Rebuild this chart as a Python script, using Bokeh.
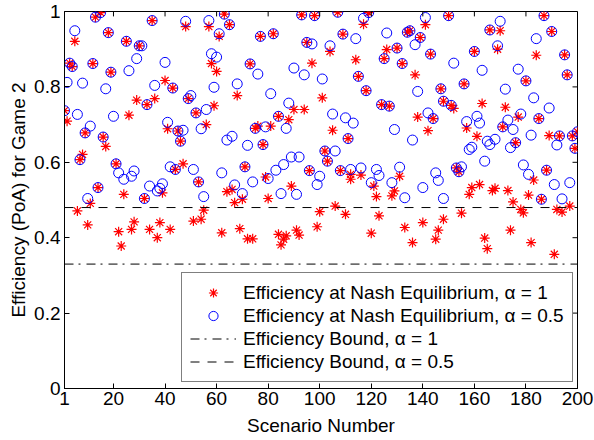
from bokeh.plotting import figure
from bokeh.models import Range1d, FixedTicker, Legend, LegendItem
from bokeh.embed import file_html
from bokeh.resources import INLINE

# ---- data ----
circ_x = [1, 2, 3, 4, 5, 6, 7, 8, 9, 10, 11, 12, 13, 14, 15, 16, 17, 18, 19, 20,
          21, 22, 24, 25, 26, 27, 28, 29, 30, 31, 32, 33, 34, 35, 36, 37, 38, 39, 40,
          41, 42, 43, 44, 45, 46, 47, 48, 49, 50, 51, 52, 53, 54, 55, 56, 57, 58, 59, 60,
          61, 62, 63, 64, 65, 66, 67, 68, 70, 71, 72, 73, 74, 75, 76, 77, 78, 79, 80,
          81, 82, 83, 84, 85, 86, 87, 88, 89, 90, 91, 92, 93, 94, 95, 96, 97, 98, 99, 100,
          101, 102, 103, 104, 105, 106, 107, 108, 109, 110, 111, 112, 113, 114, 115, 116,
          117, 118, 119, 120, 122, 123, 124, 125, 126, 127, 128, 129, 130, 131, 132, 133,
          134, 135, 136, 137, 138, 139, 140, 141, 142, 143, 144, 145, 146, 147, 148, 148,
          150, 151, 152, 153, 154, 155, 156, 157, 158, 159, 160, 161, 162, 163, 164, 165,
          166, 166, 168, 169, 170, 171, 172, 173, 174, 175, 176, 177, 178, 179, 180, 181,
          182, 183, 184, 185, 186, 187, 188, 189, 190, 191, 192, 193, 194, 195, 196, 197,
          198, 199, 200]
circ_y = [0.737, 0.812, 0.863, 0.854, 0.949, 0.727, 0.607, 0.810, 0.678, 0.504, 0.696,
          0.862, 0.985, 0.533, 0.997, 0.667, 0.795, 0.944, 0.839, 0.722,
          0.596, 0.572, 0.555, 0.921, 0.843, 0.563, 0.577, 0.875, 0.909, 0.909, 0.504,
          0.753, 0.537, 0.976, 0.804, 0.524, 0.531, 0.543, 0.865,
          0.706, 0.588, 0.797, 0.581, 0.683, 0.656, 0.685, 0.974, 0.769, 0.777, 0.581,
          0.731, 0.548, 0.689, 0.509, 0.740, 0.976, 0.888, 0.799, 0.879,
          0.941, 0.572, 0.993, 0.659, 0.965, 0.669, 0.540, 0.808, 0.517, 0.588, 0.645,
          0.861, 0.548, 0.690, 0.834, 0.934, 0.647, 0.694, 0.557,
          0.782, 0.941, 0.579, 0.722, 0.517, 0.594, 0.690, 0.757, 0.614, 0.850, 0.515,
          0.614, 0.991, 0.832, 0.918, 0.578, 0.914, 0.989, 0.541, 0.563,
          0.821, 0.630, 0.603, 0.909, 0.728, 0.630, 0.998, 0.578, 0.940, 0.718, 0.663,
          0.581, 0.704, 0.928, 0.828, 0.585,
          0.982, 0.790, 0.997, 0.546, 0.581, 0.565, 0.753, 0.875, 0.943, 0.749, 0.546,
          0.687, 0.903, 0.587, 0.862, 0.506,
          0.945, 0.949, 0.659, 0.912, 0.788, 0.931, 0.533, 0.984, 0.731, 0.887, 0.716,
          0.572, 0.552, 0.795, 0.762, 0.504,
          0.989, 0.751, 0.863, 0.585, 0.575, 0.588, 0.808, 0.708, 0.634, 0.640, 0.894,
          0.722, 0.704, 0.844, 0.603, 0.656,
          0.647, 0.951, 0.661, 0.909, 0.974, 0.694, 0.794, 0.712, 0.639, 0.687, 0.652,
          0.847, 0.728, 0.593, 0.816, 0.568,
          0.672, 0.771, 0.928, 0.716, 0.502, 0.989, 0.579, 0.744, 0.947, 0.541, 0.646,
          0.670, 0.503, 0.885, 0.832, 0.546,
          0.670, 0.637, 0.681]

star_x = [1, 2, 3, 4, 5, 6, 7, 8, 9, 10, 11, 12, 13, 14, 15, 16, 17, 18, 19, 21,
          22, 23, 24, 25, 26, 27, 28, 29, 30, 32, 33, 34, 35, 36, 37, 38, 39, 40,
          41, 42, 43, 44, 45, 46, 47, 48, 49, 51, 52, 53, 54, 55, 56, 57, 58, 59, 60,
          61, 62, 63, 64, 65, 66, 67, 68, 69, 70, 71, 72, 73, 74, 75, 76, 77, 78, 79, 80,
          81, 82, 84, 84, 85, 86, 87, 88, 89, 90, 91, 92, 93, 94, 95, 96, 97, 98, 99, 100,
          101, 102, 103, 104, 105, 106, 107, 108, 109, 110, 111, 112, 112, 114, 115, 116,
          117, 118, 119, 120, 121, 122, 123, 124, 125, 126, 127, 128, 129, 130, 131, 132,
          133, 134, 135, 136, 137, 138, 139, 140, 141, 142, 143, 144, 145, 146, 147, 148,
          148, 150, 151, 152, 153, 154, 155, 156, 157, 158, 159, 160, 161, 162, 163, 164,
          165, 166, 167, 168, 169, 170, 171, 172, 173, 174, 175, 176, 177, 178, 179, 180,
          181, 182, 183, 184, 185, 186, 187, 188, 189, 190, 191, 192, 193, 194, 195, 196,
          197, 198, 199, 200]
star_y = [0.737, 0.709, 0.863, 0.854, 0.921, 0.471, 0.607, 0.621, 0.678, 0.434, 0.491,
          0.862, 0.985, 0.533, 0.997, 0.667, 0.642, 0.944, 0.839, 0.596,
          0.416, 0.378, 0.515, 0.921, 0.725, 0.422, 0.442, 0.765, 0.909, 0.504, 0.753,
          0.422, 0.976, 0.769, 0.400, 0.440, 0.519, 0.817,
          0.689, 0.422, 0.797, 0.581, 0.683, 0.656, 0.596, 0.960, 0.769, 0.444, 0.731,
          0.548, 0.449, 0.473, 0.700, 0.960, 0.862, 0.750, 0.841,
          0.934, 0.413, 0.993, 0.522, 0.965, 0.528, 0.493, 0.777, 0.424, 0.502, 0.588,
          0.397, 0.861, 0.397, 0.690, 0.696, 0.934, 0.647, 0.561, 0.504,
          0.696, 0.941, 0.722, 0.409, 0.381, 0.396, 0.405, 0.713, 0.537, 0.740, 0.420,
          0.407, 0.991, 0.740, 0.918, 0.578, 0.863, 0.989, 0.429, 0.469,
          0.771, 0.630, 0.603, 0.894, 0.685, 0.484, 0.998, 0.578, 0.940, 0.462, 0.663,
          0.568, 0.555, 0.872, 0.828, 0.566,
          0.966, 0.790, 0.997, 0.412, 0.537, 0.509, 0.458, 0.753, 0.875, 0.899, 0.749,
          0.511, 0.524, 0.903, 0.563, 0.862,
          0.427, 0.945, 0.949, 0.387, 0.832, 0.720, 0.931, 0.440, 0.965, 0.684, 0.887,
          0.716, 0.396, 0.420, 0.795, 0.762,
          0.449, 0.989, 0.751, 0.743, 0.585, 0.575, 0.465, 0.808, 0.691, 0.515, 0.533,
          0.894, 0.669, 0.541, 0.756, 0.399,
          0.371, 0.951, 0.525, 0.531, 0.900, 0.949, 0.694, 0.746, 0.525, 0.420, 0.495,
          0.652, 0.720, 0.475, 0.466, 0.816,
          0.513, 0.387, 0.553, 0.884, 0.716, 0.502, 0.989, 0.579, 0.671, 0.947, 0.356,
          0.475, 0.670, 0.468, 0.885, 0.832,
          0.484, 0.670, 0.637, 0.681]

bound_alpha_1 = 0.33
bound_alpha_05 = 0.48
x_limits = [1, 200]
y_limits = [0, 1]
x_ticks = [1, 20, 40, 60, 80, 100, 120, 140, 160, 180, 200]
y_ticks = [0, 0.2, 0.4, 0.6, 0.8, 1.0]

FONT = "Liberation Sans"
FS = "19px"

p = figure(width=594, height=440, x_range=Range1d(*x_limits), y_range=Range1d(*y_limits),
           output_backend="svg", toolbar_location=None,
           min_border_left=64, min_border_right=17, min_border_top=11, min_border_bottom=52)
p.background_fill_color = "white"
p.border_fill_color = "white"
p.outline_line_color = "black"
p.outline_line_width = 1
p.xgrid.visible = False
p.ygrid.visible = False

r_star = p.scatter(star_x, star_y, marker="asterisk", size=10, line_color="#ff0000",
                   line_width=1.2)
r_circ = p.scatter(circ_x, circ_y, marker="circle", size=10, fill_color=None,
                   line_color="#0000ff", line_width=1)
r_b1 = p.line(x_limits, [bound_alpha_1, bound_alpha_1], line_color="black",
              line_width=1, line_dash="9 5 2 6")
r_b05 = p.line(x_limits, [bound_alpha_05, bound_alpha_05], line_color="black",
               line_width=1, line_dash="9 8")

# mirrored inward ticks on the top and right edges of the box (MATLAB "box on")
tick_len_y = 0.013 * (y_limits[1] - y_limits[0])
tick_len_x = 0.0097 * (x_limits[1] - x_limits[0])
p.segment(x0=x_ticks, y0=[y_limits[1]] * len(x_ticks), x1=x_ticks,
          y1=[y_limits[1] - tick_len_y] * len(x_ticks), line_color="black", line_width=1)
p.segment(x0=[x_limits[1]] * len(y_ticks), y0=y_ticks,
          x1=[x_limits[1] - tick_len_x] * len(y_ticks), y1=y_ticks,
          line_color="black", line_width=1)

for ax in (p.xaxis[0], p.yaxis[0]):
    ax.major_tick_in = 5
    ax.major_tick_out = 0
    ax.minor_tick_line_color = None
    ax.axis_line_color = "black"
    ax.major_tick_line_color = "black"
    ax.major_label_text_font = FONT
    ax.major_label_text_font_size = FS
    ax.major_label_text_color = "black"
    ax.axis_label_text_font = FONT
    ax.axis_label_text_font_size = FS
    ax.axis_label_text_font_style = "normal"
    ax.axis_label_text_color = "black"

p.xaxis.ticker = FixedTicker(ticks=x_ticks)
p.yaxis.ticker = FixedTicker(ticks=y_ticks)
p.yaxis.major_label_overrides = {0: "0", 1: "1"}
p.xaxis.axis_label = "Scenario Number"
p.yaxis.axis_label = "Efficiency (PoA) for Game 2"
p.xaxis.major_label_standoff = 3
p.xaxis.axis_label_standoff = 7
p.yaxis.major_label_standoff = 4
p.yaxis.axis_label_standoff = 2

legend = Legend(items=[
    LegendItem(label="Efficiency at Nash Equilibrium, \u03b1 = 1", renderers=[r_star]),
    LegendItem(label="Efficiency at Nash Equilibrium, \u03b1 = 0.5", renderers=[r_circ]),
    LegendItem(label="Efficiency Bound, \u03b1 = 1", renderers=[r_b1]),
    LegendItem(label="Efficiency Bound, \u03b1 = 0.5", renderers=[r_b05]),
], location=(117, 6))
legend.label_text_font = FONT
legend.label_text_font_size = FS
legend.label_text_color = "black"
legend.border_line_color = "black"
legend.border_line_width = 1
legend.background_fill_color = "white"
legend.background_fill_alpha = 1
legend.padding = 8
legend.spacing = 0
legend.label_height = 23
legend.glyph_height = 23
legend.glyph_width = 46
legend.label_standoff = 7
legend.margin = 0
p.add_layout(legend)

open("out.html", "w").write(file_html(p, INLINE))
